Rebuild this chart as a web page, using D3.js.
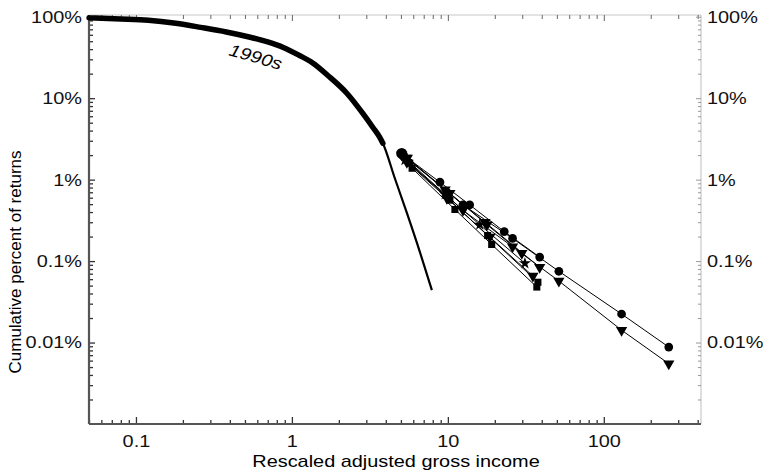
<!DOCTYPE html>
<html>
<head>
<meta charset="utf-8">
<script src="https://cdn.jsdelivr.net/npm/d3@7"></script>
<style>
  body { margin: 0; background: #fff; }
  svg { font-family: "Liberation Sans", Arial, sans-serif; }
  .axis text { font-size: 17px; fill: #111; }
  .axis .domain { display: none; }
</style>
</head>
<body>
<div id="chart"></div>
<script>
// ---- data (x = rescaled AGI, y = cumulative percent of returns) ----
const curve1990s = [
  [0.05, 97], [0.08, 94], [0.12, 90.6], [0.18, 83], [0.26, 74], [0.38, 65],
  [0.54, 56], [0.7, 49], [0.88, 42], [1.1, 34], [1.36, 27], [1.7, 19],
  [2.25, 11.5], [2.85, 6.5], [3.3, 4.4], [3.66, 3.3], [3.83, 2.8],
  [4.57, 1.04], [5.46, 0.39], [6.62, 0.129], [7.9, 0.044]
];
const bandEnd = 3.83; // thick (data) part of the 1990s curve

const tailA = [[5.06, 2.1], [12.5, 0.49], [26, 0.19], [51.5, 0.075], [130, 0.0224], [261, 0.0088]];
const tailB = [[5.06, 2.0], [12.5, 0.42], [26, 0.15], [51.5, 0.057], [130, 0.0142], [261, 0.0055]];
const tailC = [[5.2, 2.0], [8.9, 0.93], [13.8, 0.49], [23, 0.23], [38.8, 0.112]];
const tailD = [[5.4, 1.84], [9.6, 0.75], [17.3, 0.3], [38.8, 0.084]];
const tailE = [[5.7, 1.59], [10.3, 0.56], [18, 0.206], [37.8, 0.055]];
const tailF = [[5.9, 1.38], [11.1, 0.43], [19.1, 0.16], [37.2, 0.048]];
const tailG = [[5.3, 1.73], [9.6, 0.66], [16, 0.28], [31.2, 0.094]];
const tailH = [[5.5, 1.84], [10.3, 0.68], [17.8, 0.28], [29.8, 0.125]];
const tailI = [[5.46, 1.64], [9.86, 0.593], [18.6, 0.197], [35.1, 0.0655]];

const tails = [
  {pts: tailA, sym: 'circle'}, {pts: tailB, sym: 'tri'},
  {pts: tailC, sym: 'circle'}, {pts: tailD, sym: 'tri'},
  {pts: tailE, sym: 'square'}, {pts: tailF, sym: 'square'},
  {pts: tailG, sym: 'star'},   {pts: tailH, sym: 'tri'},
  {pts: tailI, sym: 'tri'}
];

const xMajor = [0.1, 1, 10, 100];
const xLabels = ['0.1', '1', '10', '100'];
const yMajor = [100, 10, 1, 0.1, 0.01];
const yLabels = ['100%', '10%', '1%', '0.1%', '0.01%'];

// ---- layout ----
const W = 763, H = 472;
const m = {t: 15, r: 62, b: 48, l: 89};
const w = W - m.l - m.r, h = H - m.t - m.b;
const stretch = 1.17; // the original text is a bit wide

const svg = d3.select('#chart').append('svg')
  .attr('width', W).attr('height', H);

const plot = svg.append('g').attr('transform', `translate(${m.l},${m.t})`);

const x = d3.scaleLog().domain([0.05, 420]).range([0, w]);
const y = d3.scaleLog().domain([0.001, 105]).range([h, 0]);

// minor tick values
const xMinor = [];
[0.01, 0.1, 1, 10, 100].forEach(d => {
  for (let k = 2; k <= 9; k++) { const v = d * k; if (v >= 0.05 && v <= 420) xMinor.push(v); }
});
const yMinor = [];
[0.001, 0.01, 0.1, 1, 10].forEach(d => {
  for (let k = 2; k <= 9; k++) { const v = d * k; if (v >= 0.001 && v <= 105) yMinor.push(v); }
});

function widen(g) {
  g.selectAll('text').each(function() {
    const t = d3.select(this);
    const tx = +t.attr('x') || 0, ty = +t.attr('y') || 0;
    t.attr('x', 0).attr('y', 0)
      .attr('transform', `translate(${tx},${ty}) scale(${stretch},1)`);
  });
}

////////////////////////////////////////////////////////////////////
// frame: light top / right, dark bottom / left
plot.append('line').attr('x1', 0).attr('x2', w).attr('y1', 0).attr('y2', 0)
  .attr('stroke', '#c8c8c8').attr('stroke-width', 1.2);
plot.append('line').attr('x1', w).attr('x2', w).attr('y1', 0).attr('y2', h)
  .attr('stroke', '#c8c8c8').attr('stroke-width', 1.2);

// top ticks
const topAxis = plot.append('g').attr('class', 'axis');
topAxis.call(d3.axisTop(x).tickValues(xMajor).tickSize(-6).tickFormat(''));
topAxis.append('g').call(d3.axisTop(x).tickValues(xMinor).tickSize(-4).tickFormat(''));
topAxis.selectAll('line').attr('stroke', '#666');

// right axis
const rightAxis = plot.append('g').attr('class', 'axis').attr('transform', `translate(${w},0)`);
rightAxis.call(d3.axisRight(y).tickValues(yMajor).tickSize(-5).tickPadding(6)
  .tickFormat((d, i) => yLabels[i]));
rightAxis.append('g').call(d3.axisRight(y).tickValues(yMinor).tickSize(-3).tickFormat(''));
rightAxis.selectAll('line').attr('stroke', '#999');
widen(rightAxis);

// bottom axis
const bottomAxis = plot.append('g').attr('class', 'axis').attr('transform', `translate(0,${h})`);
bottomAxis.call(d3.axisBottom(x).tickValues(xMajor).tickSize(-7).tickPadding(11)
  .tickFormat((d, i) => xLabels[i]));
bottomAxis.append('g').call(d3.axisBottom(x).tickValues(xMinor).tickSize(-4).tickFormat(''));
bottomAxis.selectAll('line').attr('stroke', '#333').attr('stroke-width', 1.3);
widen(bottomAxis);

// left axis
const leftAxis = plot.append('g').attr('class', 'axis');
leftAxis.call(d3.axisLeft(y).tickValues(yMajor).tickSize(-6).tickPadding(7)
  .tickFormat((d, i) => yLabels[i]));
leftAxis.append('g').call(d3.axisLeft(y).tickValues(yMinor).tickSize(-4).tickFormat(''));
leftAxis.selectAll('line').attr('stroke', '#333').attr('stroke-width', 1.3);
widen(leftAxis);

plot.append('line').attr('x1', 0).attr('x2', w).attr('y1', h).attr('y2', h)
  .attr('stroke', '#555').attr('stroke-width', 2.2);
plot.append('line').attr('x1', 0).attr('x2', 0).attr('y1', 0).attr('y2', h)
  .attr('stroke', '#555').attr('stroke-width', 2.2);

////////////////////////////////////////////////////////////////////
// 1990s curve: thin fit + thick data band
const line = d3.line().x(d => x(d[0])).y(d => y(d[1])).curve(d3.curveMonotoneX);

plot.append('path').datum(curve1990s)
  .attr('d', line).attr('fill', 'none')
  .attr('stroke', '#000').attr('stroke-width', 2.2);

plot.append('path').datum(curve1990s.filter(d => d[0] <= bandEnd))
  .attr('d', line).attr('fill', 'none')
  .attr('stroke', '#000').attr('stroke-width', 5.5).attr('stroke-linecap', 'round');

svg.append('text')
  .attr('transform', `translate(228,55) rotate(16) scale(${stretch},1)`)
  .style('font-size', '17px').style('font-style', 'italic')
  .text('1990s');

////////////////////////////////////////////////////////////////////
// upper tail series
const lineStraight = d3.line().x(d => x(d[0])).y(d => y(d[1]));
const symType = {
  circle: d3.symbolCircle, tri: d3.symbolTriangle, square: d3.symbolSquare, star: d3.symbolStar
};
const symSize = {circle: 60, tri: 55, square: 50, star: 45};

const tailGroups = plot.selectAll('.tail').data(tails).enter()
  .append('g').attr('class', 'tail');

tailGroups.append('path')
  .attr('d', d => lineStraight(d.pts))
  .attr('fill', 'none').attr('stroke', '#000').attr('stroke-width', 1);

tailGroups.each(function(s) {
  d3.select(this).selectAll('.mk').data(s.pts).enter()
    .append('path').attr('class', 'mk')
    .attr('transform', d => `translate(${x(d[0])},${y(d[1])})` + (s.sym === 'tri' ? ' rotate(180)' : ''))
    .attr('d', d3.symbol().type(symType[s.sym]).size(symSize[s.sym]))
    .attr('fill', '#000');
});

// big start marker
plot.append('circle')
  .attr('cx', x(tailA[0][0])).attr('cy', y(tailA[0][1]))
  .attr('r', 5.5).attr('fill', '#000');

////////////////////////////////////////////////////////////////////
// axis titles
svg.append('text')
  .attr('transform', `translate(396,467) scale(${stretch},1)`)
  .attr('text-anchor', 'middle')
  .style('font-size', '17px')
  .text('Rescaled adjusted gross income');

svg.append('text')
  .attr('transform', `translate(21,262) rotate(-90)`)
  .attr('text-anchor', 'middle')
  .style('font-size', '17px')
  .text('Cumulative percent of returns');
</script>
</body>
</html>
